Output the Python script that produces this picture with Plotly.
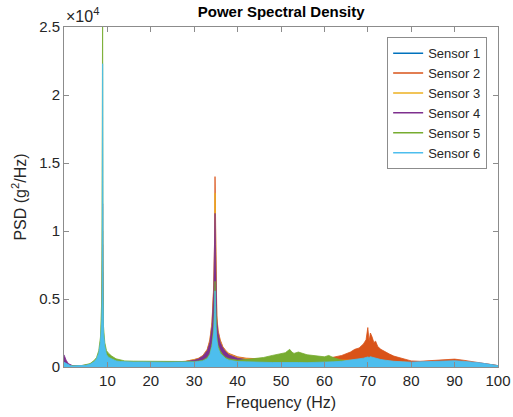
import plotly.graph_objects as go

freq = [0, 0.5, 1, 1.5, 2, 3, 4, 5, 6, 7, 7.5, 8, 8.4, 8.7, 8.8, 8.9, 9.0, 9.1, 9.4, 9.8,
        10.3, 11, 12, 13, 14, 16, 18, 20, 22, 24, 26, 28, 30, 31, 32, 33, 33.6, 34.1, 34.5, 34.7,
        34.8, 34.9, 35.0, 35.2, 35.5, 36, 36.6, 37.3, 38, 39, 40, 42, 44, 46, 48, 50, 51, 52, 52.5, 53,
        54, 56, 58, 60, 61, 62, 64, 66, 67, 68, 69, 69.6, 70, 70.3, 70.6, 71, 71.4, 71.8, 72.3, 73,
        74, 75, 76, 78, 80, 82, 84, 86, 88, 90, 92, 94, 96, 98, 100]

sensor1 = [400, 220, 120, 90, 70, 70, 80, 100, 160, 300, 450, 700, 1200, 2200, 4000,
           7000, 2500, 1500, 900, 600, 450, 380, 330, 310, 300, 290, 290, 280, 290, 290,
           300, 320, 400, 480, 600, 900, 1300, 2200, 4000, 6000, 8500, 6500, 4300, 2600, 1800,
           1300, 1000, 800, 650, 550, 480, 420, 400, 380, 370, 370, 380, 390, 380, 370,
           360, 350, 340, 340, 340, 340, 350, 360, 380, 400, 420, 440, 460, 440, 450,
           430, 410, 400, 380, 360, 340, 320, 300, 280, 270, 280, 290, 300, 310, 310,
           290, 260, 220, 160, 80]
sensor2 = [600, 300, 150, 100, 80, 80, 90, 120, 180, 350, 500, 800, 1400, 2500, 5000,
           9000, 3000, 1800, 1100, 700, 550, 450, 380, 360, 350, 340, 350, 340, 350, 360,
           380, 420, 550, 650, 850, 1300, 2000, 3300, 6000, 9300, 14000, 10000, 6500, 3800, 2700,
           2000, 1500, 1200, 1000, 850, 750, 650, 600, 580, 600, 620, 650, 680, 650, 640,
           650, 620, 600, 620, 650, 700, 850, 1100, 1300, 1400, 1700, 2000, 2900, 1900, 2500,
           2200, 1800, 1900, 1500, 1300, 1100, 950, 800, 600, 450, 420, 450, 500, 550, 580,
           500, 420, 300, 200, 100]
sensor3 = [500, 280, 150, 100, 80, 80, 90, 120, 180, 350, 500, 850, 1500, 2800, 5500,
           10000, 3500, 2000, 1200, 750, 580, 480, 400, 370, 360, 350, 350, 345, 350, 360,
           380, 410, 520, 620, 820, 1250, 1900, 3200, 5800, 8500, 12800, 9500, 6300, 3700, 2600,
           1900, 1450, 1150, 950, 800, 700, 600, 550, 520, 500, 500, 520, 540, 520, 500,
           500, 480, 470, 460, 460, 460, 470, 480, 500, 520, 540, 560, 580, 560, 560,
           540, 520, 500, 480, 460, 440, 420, 400, 370, 340, 340, 350, 360, 370, 370,
           350, 320, 270, 190, 90]
sensor4 = [900, 500, 250, 150, 100, 90, 100, 130, 200, 380, 550, 900, 1600, 3000, 6000,
           12000, 4000, 2200, 1300, 800, 600, 500, 400, 380, 360, 350, 350, 340, 350, 360,
           380, 400, 500, 600, 800, 1200, 1800, 3000, 5500, 8000, 11300, 9000, 6000, 3500, 2500,
           1800, 1400, 1100, 900, 750, 650, 550, 500, 480, 460, 450, 450, 460, 450, 440,
           440, 430, 420, 410, 400, 400, 400, 400, 400, 400, 400, 400, 400, 400, 400,
           400, 400, 400, 390, 380, 370, 360, 350, 340, 330, 330, 340, 350, 360, 360,
           340, 320, 280, 200, 100]
sensor5 = [300, 200, 120, 90, 80, 90, 100, 150, 250, 500, 700, 1200, 2200, 5000, 16000,
           27000, 6000, 3000, 1800, 1200, 1000, 800, 600, 500, 450, 430, 420, 400, 420, 400,
           400, 380, 400, 450, 500, 700, 1000, 1700, 3000, 5000, 6300, 5000, 3500, 2300, 1600,
           1200, 900, 700, 600, 550, 500, 550, 600, 700, 850, 950, 1050, 1300, 1100, 1000,
           1100, 900, 800, 750, 850, 700, 500, 350, 300, 300, 300, 320, 330, 320, 310,
           300, 300, 300, 290, 280, 270, 260, 250, 240, 230, 230, 230, 240, 240, 240,
           230, 220, 200, 150, 80]
sensor6 = [350, 250, 150, 100, 80, 80, 90, 120, 200, 400, 600, 1000, 1800, 3500, 6000,
           22300, 5000, 2500, 1500, 900, 700, 600, 450, 400, 380, 360, 370, 350, 360, 350,
           360, 350, 370, 400, 450, 600, 900, 1500, 2500, 4000, 5600, 4500, 3000, 2000, 1400,
           1000, 800, 600, 500, 450, 400, 380, 350, 340, 330, 330, 340, 350, 340, 330,
           330, 320, 330, 340, 350, 380, 420, 500, 550, 620, 650, 700, 740, 700, 760,
           720, 680, 650, 600, 550, 500, 450, 420, 380, 350, 380, 400, 420, 450, 460,
           420, 380, 300, 200, 100]

names = ["Sensor 1", "Sensor 2", "Sensor 3", "Sensor 4", "Sensor 5", "Sensor 6"]
series = [sensor1, sensor2, sensor3, sensor4, sensor5, sensor6]
colors = ["#0072BD", "#D95319", "#EDB120", "#7E2F8E", "#77AC30", "#4DBEEE"]

yticks = [0, 5000, 10000, 15000, 20000, 25000]
ytick_text = ["0", "0.5", "1", "1.5", "2", "2.5"]
xticks = [10, 20, 30, 40, 50, 60, 70, 80, 90, 100]

fig = go.Figure()
for name, vals, c in zip(names, series, colors):
    fig.add_trace(go.Scatter(x=freq, y=vals, name=name, mode="lines",
                             line=dict(color=c, width=0.8),
                             fill="tozeroy", fillcolor=c,
                             legendgroup=name, showlegend=False))
# legend entries drawn as line samples (as in the reference)
for name, c in zip(names, colors):
    fig.add_trace(go.Scatter(x=[None], y=[None], name=name, mode="lines",
                             line=dict(color=c, width=1.5), legendgroup=name))

axis_common = dict(showline=True, linecolor="#8c8c8c", linewidth=1, mirror="ticks",
                   ticks="inside", ticklen=5, tickcolor="#8c8c8c", showgrid=False,
                   zeroline=False, automargin=False,
                   tickfont=dict(size=15, color="#262626"))

fig.update_layout(
    width=513, height=417,
    margin=dict(l=64, r=15, t=27, b=50),
    plot_bgcolor="white", paper_bgcolor="white",
    font=dict(family="Liberation Sans, Arial, sans-serif", color="#262626"),
    title=dict(text="<b>Power Spectral Density</b>", x=0.548, xanchor="center",
               y=0.972, yanchor="middle", font=dict(size=15, color="#000")),
    xaxis=dict(range=[0, 100], tickvals=xticks,
               title=dict(text="Frequency (Hz)", font=dict(size=16), standoff=8),
               **axis_common),
    yaxis=dict(range=[0, 25000], tickvals=yticks, ticktext=ytick_text,
               title=dict(text="PSD (g<sup>2</sup>/Hz)", font=dict(size=16), standoff=8),
               **axis_common),
    legend=dict(x=0.975, y=0.97, xanchor="right", yanchor="top",
                bgcolor="white", bordercolor="#8c8c8c", borderwidth=1,
                font=dict(size=13, color="#262626"), tracegroupgap=0),
    showlegend=True,
)
fig.add_annotation(text="×10<sup>4</sup>", xref="paper", yref="paper", x=0.0, y=1.0,
                   xanchor="left", yanchor="bottom", showarrow=False,
                   font=dict(size=16, color="#262626"))

fig.write_html("out.html")
